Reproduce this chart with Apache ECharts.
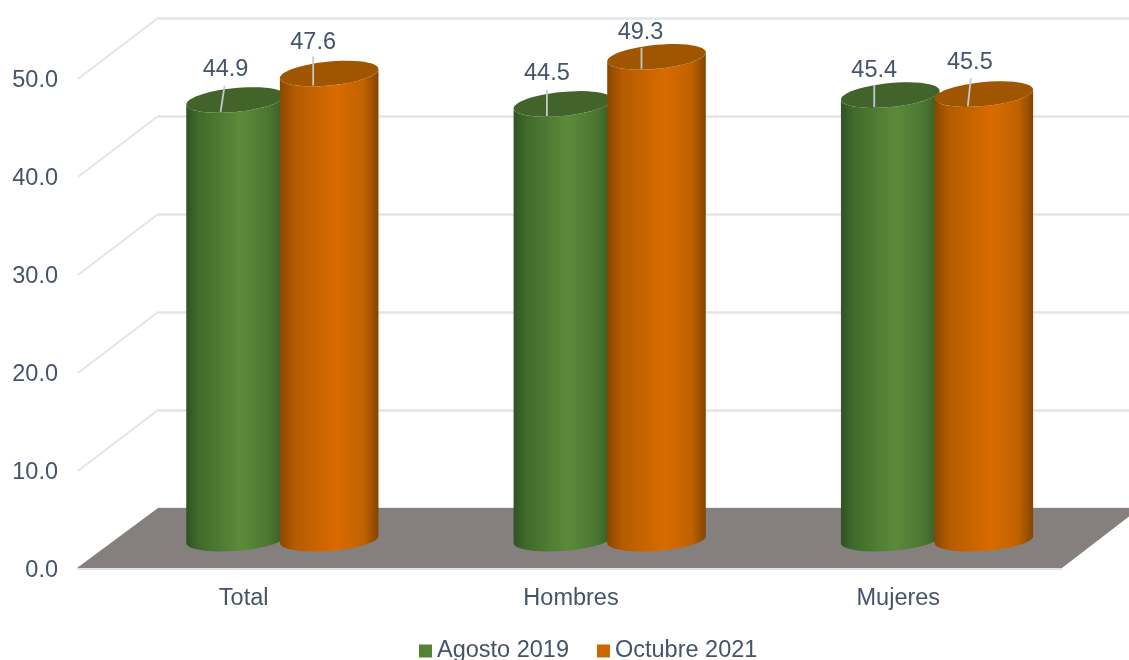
<!DOCTYPE html>
<html>
<head>
<meta charset="utf-8">
<style>html,body{margin:0;padding:0;background:#fff;overflow:hidden}#c{width:1129px;height:660px}</style>
<script src="https://cdn.jsdelivr.net/npm/echarts@6/dist/echarts.min.js"></script>
</head>
<body>
<div id="c"></div>
<script>
const categories = ['Total', 'Hombres', 'Mujeres'];
const agosto2019 = [44.9, 44.5, 45.4];
const octubre2021 = [47.6, 49.3, 45.5];
const yTickLabels = ['0.0', '10.0', '20.0', '30.0', '40.0', '50.0'];
const seriesNames = ['Agosto 2019', 'Octubre 2021'];

// Label layout (pixel nudges from each cylinder top): [leader bottom dx, leader top dx, leader length, text dx, text gap]
const labelNudgeA = [[-15, -11, 26, -10, 16], [-16, -16, 26, -16, 16], [-16, -16, 22, -16, 15]];
const labelNudgeB = [[-16, -16, 29, -16, 14], [-15, -15, 21, -16, 15], [-16, -13, 28, -14, 15.5]];

const TEXT = '#44546a', FONT = '"Liberation Sans", Arial, sans-serif', FS = 23.5;
const DEPTH_X = 78, DEPTH_Y = -59, GRID_LINE = '#e3e5ea';
const RX = 49.3, RY_TOP = 12, SKEW_TOP = 4.5, RY_BOT = 11.5, SKEW_BOT = 3.5;

function arc(cx, cy, ry, skew, t0, t1) {
  const pts = [];
  const n = 48;
  for (let i = 0; i <= n; i++) {
    const t = t0 + (t1 - t0) * i / n;
    pts.push([cx + RX * Math.cos(t), cy + ry * Math.sin(t) - skew * Math.cos(t)]);
  }
  return pts;
}

function cylinderRender(values, slot, nudges, look) {
  return function (params, api) {
    const i = api.value(0), v = api.value(1);
    const base = api.coord([i, 0]), top = api.coord([i, v]);
    const cx = base[0] + DEPTH_X / 2 + slot * 46.8 - 0.3;
    const by = base[1] - 27.5, ty = top[1] - 27;
    const lower = arc(cx, by, RY_BOT, SKEW_BOT, Math.PI, 0);
    const body = [[cx - RX, ty + SKEW_TOP]].concat(lower, [[cx + RX, ty - SKEW_TOP]],
      arc(cx, ty, RY_TOP, SKEW_TOP, 0, Math.PI));
    const n = nudges[params.dataIndex];
    const ly = ty + 12;
    return {
      type: 'group',
      children: [
        { type: 'polygon', shape: { points: body }, style: { fill: new echarts.graphic.LinearGradient(0, 0, 1, 0, look.stops) } },
        { type: 'polygon', shape: { points: arc(cx, ty, RY_TOP, SKEW_TOP, 0, Math.PI * 2) }, style: { fill: look.cap } },
        { type: 'line', shape: { x1: cx + n[0], y1: ly, x2: cx + n[1], y2: ly - n[2] }, style: { stroke: '#c3c8d2', lineWidth: 1.8 } },
        { type: 'text', style: { x: cx + n[3], y: ly - n[2] - n[4], text: api.value(1).toFixed(1), fill: TEXT, font: FS + 'px ' + FONT, align: 'center', verticalAlign: 'middle' } }
      ]
    };
  };
}

const greenLook = {
  cap: '#42642a',
  stops: [{ offset: 0, color: '#2f5322' }, { offset: 0.12, color: '#3f6a2b' }, { offset: 0.55, color: '#5b8b3a' }, { offset: 0.85, color: '#4a7530' }, { offset: 1, color: '#355a25' }]
};
const orangeLook = {
  cap: '#a05500',
  stops: [{ offset: 0, color: '#8a4700' }, { offset: 0.15, color: '#b45c00' }, { offset: 0.58, color: '#d96b00' }, { offset: 0.85, color: '#c06200' }, { offset: 1, color: '#854400' }]
};

const chart = echarts.init(document.getElementById('c'), null, { renderer: 'canvas' });
chart.setOption({
  animation: false,
  backgroundColor: '#fff',
  grid: [
    { left: 80, top: 77, width: 982, height: 490 },
    { left: 158, top: 18, width: 982, height: 490 },
    { left: 80, top: 80.5, width: 982, height: 490 }
  ],
  legend: {
    data: seriesNames, left: 414, top: 634, icon: 'rect', itemWidth: 13, itemHeight: 13, itemGap: 28,
    textStyle: { color: TEXT, fontFamily: FONT, fontSize: FS, padding: [6, 0, 0, 0] }
  },
  xAxis: [
    { type: 'category', gridIndex: 0, data: categories, axisLine: { show: false }, axisTick: { show: false },
      axisLabel: { color: TEXT, fontFamily: FONT, fontSize: FS, margin: 20 } },
    { type: 'category', gridIndex: 1, data: categories, show: false },
    { type: 'category', gridIndex: 2, data: categories, show: false }
  ],
  yAxis: [
    { type: 'value', gridIndex: 0, min: 0, max: 50, interval: 10, show: false },
    { type: 'value', gridIndex: 1, min: 0, max: 50, interval: 10, axisLine: { show: false }, axisTick: { show: false }, axisLabel: { show: false },
      splitLine: { show: true, lineStyle: { color: GRID_LINE, width: 2.5 } } },
    { type: 'value', gridIndex: 2, min: 0, max: 50, interval: 10, axisLine: { show: false }, axisTick: { show: false }, splitLine: { show: false },
      axisLabel: { color: TEXT, fontFamily: FONT, fontSize: FS, margin: 22, formatter: v => yTickLabels[v / 10] } }
  ],
  series: [
    {
      type: 'custom', name: 'floor', xAxisIndex: 0, yAxisIndex: 0, silent: true, z: 1, clip: false,
      data: [[0, 0]],
      renderItem: function (params, api) {
        const cs = params.coordSys;
        const x0 = cs.x, x1 = cs.x + cs.width;
        const children = [];
        for (let k = 1; k < yTickLabels.length; k++) {
          const y = api.coord([0, k * 10])[1];
          children.push({ type: 'line', shape: { x1: x0 - 2, y1: y + 2, x2: x0 + DEPTH_X, y2: y + DEPTH_Y }, style: { stroke: GRID_LINE, lineWidth: 2 } });
        }
        const y0 = api.coord([0, 0])[1] + 1;
        children.push({ type: 'line', shape: { x1: x0 - 3, y1: y0 + 1, x2: x1, y2: y0 + 1 }, style: { stroke: '#dfe3ea', lineWidth: 2 } });
        children.push({
          type: 'polygon',
          shape: { points: [[x0 - 3, y0], [x0 + DEPTH_X, y0 + DEPTH_Y - 1], [x1 + DEPTH_X, y0 + DEPTH_Y - 1], [x1, y0]] },
          style: { fill: '#857f7e' }
        });
        return { type: 'group', children };
      }
    },
    {
      type: 'custom', name: seriesNames[0], xAxisIndex: 0, yAxisIndex: 0, silent: true, z: 3, clip: false,
      itemStyle: { color: '#568235' },
      data: agosto2019.map((v, i) => [i, v]),
      renderItem: cylinderRender(agosto2019, -1, labelNudgeA, greenLook)
    },
    {
      type: 'custom', name: seriesNames[1], xAxisIndex: 0, yAxisIndex: 0, silent: true, z: 4, clip: false,
      itemStyle: { color: '#cc6600' },
      data: octubre2021.map((v, i) => [i, v]),
      renderItem: cylinderRender(octubre2021, 1, labelNudgeB, orangeLook)
    }
  ]
});
</script>
</body>
</html>
